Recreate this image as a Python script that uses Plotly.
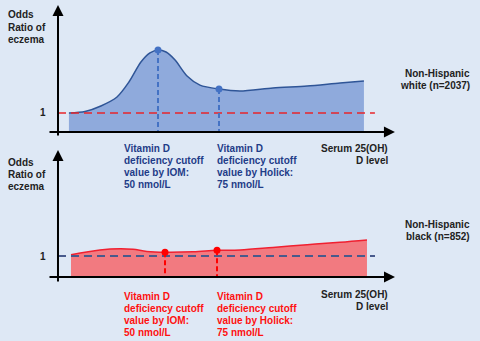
import plotly.graph_objects as go

W, H = 480, 341

# ---- data (schematic) ----
white_serum = [13.5, 20.1, 26.6, 33.2, 38.1, 43.0, 46.7, 50, 53.3, 57.0, 61.9, 67.2, 75,
               83.6, 97.1, 111.1, 124.6, 134.4]
white_or = [1.0, 1.08, 1.37, 1.84, 2.63, 3.68, 4.16, 4.32, 4.21, 3.79, 2.95, 2.47, 2.26,
            2.16, 2.32, 2.42, 2.58, 2.68]
black_serum = [4.8, 18.7, 28.4, 34.6, 41.3, 50, 63.5, 75, 86.1, 101.9, 118.3, 134.1, 147.1]
black_or = [1.06, 1.29, 1.35, 1.32, 1.22, 1.18, 1.20, 1.27, 1.29, 1.41, 1.54, 1.65, 1.76]
cutoffs = [50, 75]
white_cut_or = [4.32, 2.26]
black_cut_or = [1.18, 1.27]
ref_or = 1

y_title = ["Odds", "Ratio of", "eczema"]
iom_lines = ["Vitamin D", "deficiency cutoff", "value by IOM:", "50 nmol/L"]
holick_lines = ["Vitamin D", "deficiency cutoff", "value by Holick:", "75 nmol/L"]
x_title = ["Serum 25(OH)", "D level"]
white_label = ["Non-Hispanic", "white (n=2037)"]
black_label = ["Non-Hispanic", "black (n=852)"]

BG = "#DEE8F5"
BLUE_FILL = "#8FAADC"
BLUE_LINE = "#2F5597"
BLUE_DOT = "#4472C4"
RED_FILL = "#F27A80"
RED_LINE = "#F02030"
RED_DOT = "#FF0000"
NAVY_TXT = "#1F3C88"
RED_TXT = "#FF1010"
FONT = "Liberation Sans, Arial, sans-serif"

fig = go.Figure()

# ---- top panel ----
fig.add_trace(go.Scatter(x=white_serum, y=white_or, mode="lines",
                         line=dict(color=BLUE_LINE, width=1.5, shape="spline", smoothing=0.8),
                         fill="tozeroy", fillcolor=BLUE_FILL, xaxis="x", yaxis="y",
                         hoverinfo="skip"))
fig.add_trace(go.Scatter(x=[9.02, 138.9], y=[ref_or, ref_or], mode="lines",
                         line=dict(color="#E8262B", width=1.5, dash="8px,5px"),
                         xaxis="x", yaxis="y"))
for c, v in zip(cutoffs, white_cut_or):
    fig.add_trace(go.Scatter(x=[c, c], y=[v, 0], mode="lines",
                             line=dict(color=BLUE_DOT, width=2, dash="5px,3px"),
                             xaxis="x", yaxis="y"))
fig.add_trace(go.Scatter(x=cutoffs, y=white_cut_or, mode="markers",
                         marker=dict(color=BLUE_DOT, size=7), xaxis="x", yaxis="y"))

# ---- bottom panel ----
fig.add_trace(go.Scatter(x=black_serum, y=black_or, mode="lines",
                         line=dict(color=RED_LINE, width=1.5, shape="spline", smoothing=1.0),
                         fill="tozeroy", fillcolor=RED_FILL, xaxis="x2", yaxis="y2",
                         hoverinfo="skip"))
fig.add_trace(go.Scatter(x=[-1.45, 150.96], y=[ref_or, ref_or], mode="lines",
                         line=dict(color="#485A8C", width=2, dash="8px,5px"),
                         xaxis="x2", yaxis="y2"))
for c, v in zip(cutoffs, black_cut_or):
    fig.add_trace(go.Scatter(x=[c, c], y=[v, 0], mode="lines",
                             line=dict(color=RED_DOT, width=2, dash="5px,3px"),
                             xaxis="x2", yaxis="y2"))
fig.add_trace(go.Scatter(x=cutoffs, y=black_cut_or, mode="markers",
                         marker=dict(color=RED_DOT, size=7), xaxis="x2", yaxis="y2"))

ann = []


def arrow(xr, yr, x0, y0, x1, y1):
    ann.append(dict(x=x1, y=y1, ax=x0, ay=y0, xref=xr, yref=yr, axref=xr, ayref=yr,
                    text="", showarrow=True, arrowhead=2, arrowsize=1.1, arrowwidth=2,
                    arrowcolor="black", standoff=0, startstandoff=0))


# axes arrows
arrow("x", "y", 4.92, 0, 147.1, 0)
arrow("x", "y", 9.02, -0.263, 9.02, 6.684)
arrow("x2", "y2", -6.25, 0, 160.57, 0)
arrow("x2", "y2", -1.45, -0.286, -1.45, 6.05)


def text_lines(lines, px, py0, color, anchor="left", step=12):
    for i, t in enumerate(lines):
        ann.append(dict(x=px / W, y=1 - (py0 + i * step) / H, xref="paper", yref="paper",
                        text="<b>%s</b>" % t, showarrow=False, xanchor=anchor,
                        yanchor="middle", font=dict(family=FONT, size=10, color=color)))


text_lines(y_title, 6, 15, "#222222")
text_lines(y_title, 6, 162, "#222222")
text_lines(["1"], 43, 113, "#222222", anchor="center")
text_lines(["1"], 43, 256, "#222222", anchor="center")
text_lines(iom_lines, 122, 148, NAVY_TXT)
text_lines(holick_lines, 215, 148, NAVY_TXT)
text_lines(iom_lines, 122, 296, RED_TXT)
text_lines(holick_lines, 215, 296, RED_TXT)
text_lines(x_title, 390, 148, "#222222", anchor="right")
text_lines(x_title, 390, 294, "#222222", anchor="right")
text_lines(white_label, 472, 73, "#222222", anchor="right")
text_lines(black_label, 472, 224, "#222222", anchor="right")

split = 1 - 145 / H
fig.update_layout(
    width=W, height=H, margin=dict(l=0, r=0, t=0, b=0),
    paper_bgcolor=BG, plot_bgcolor=BG, showlegend=False,
    xaxis=dict(domain=[0, 1], range=[-14.75, 181.97], visible=False, fixedrange=True),
    yaxis=dict(domain=[split, 1], range=[-0.684, 6.947], visible=False, fixedrange=True),
    xaxis2=dict(domain=[0, 1], range=[-29.33, 201.44], visible=False, fixedrange=True),
    yaxis2=dict(domain=[0, split], range=[-3.048, 6.286], visible=False, fixedrange=True),
    annotations=ann,
)

fig.write_html("out.html")
